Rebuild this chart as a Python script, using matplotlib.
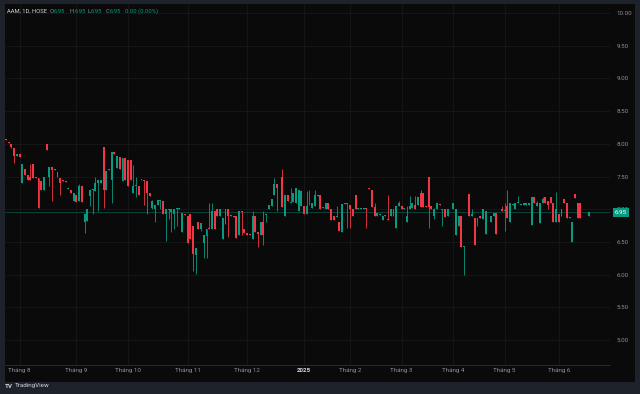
import numpy as np
import matplotlib.pyplot as plt
from matplotlib.patches import Rectangle

plt.rcParams['font.family'] = ['Roboto', 'DejaVu Sans']

# daily OHLC, AAM (HOSE), late Jul 2024 -> Jun 2025
opens = [8.08, 8.03, 8.00, 7.94, 7.81, 7.84, 7.40, 7.61, 7.53, 7.50,
         7.69, 7.50, 7.48, 7.43, 7.30, 8.00, 7.50, 7.64, 7.62, 7.57,
         7.48, 7.45, 7.43, 7.31, 7.30, 7.12, 7.21, 7.12, 7.35, 6.81,
         6.82, 7.20, 7.29, 7.28, 7.40, 7.40, 7.95, 7.30, 7.60, 7.45,
         7.88, 7.63, 7.80, 7.43, 7.78, 7.76, 7.75, 7.25, 7.36, 7.35,
         7.44, 7.45, 7.43, 7.25, 7.02, 7.00, 7.07, 7.12, 7.12, 6.92,
         6.99, 6.95, 6.92, 7.00, 7.01, 6.65, 6.93, 6.89, 6.92, 6.74,
         6.30, 6.81, 6.70, 6.48, 6.59, 6.72, 6.70, 6.97, 7.00, 6.89,
         6.54, 6.77, 7.00, 6.90, 6.89, 6.89, 6.61, 6.98, 6.70, 6.63,
         6.62, 6.54, 6.90, 6.65, 6.61, 6.81, 6.91, 7.01, 7.05, 7.22,
         7.39, 7.32, 7.50, 6.90, 7.21, 7.10, 7.11, 7.10, 6.98, 7.05,
         7.05, 6.92, 7.09, 7.02, 7.05, 7.20, 7.21, 7.02, 7.01, 7.10,
         7.01, 6.89, 6.88, 6.81, 6.65, 7.08, 7.08, 7.07, 7.01, 7.21,
         7.01, 7.01, 7.01, 7.02, 7.33, 7.29, 7.03, 6.89, 6.91, 6.83,
         6.90, 6.85, 6.89, 6.89, 6.72, 7.05, 7.05, 7.01, 6.81, 7.01,
         7.02, 7.07, 7.07, 7.25, 7.25, 7.05, 7.50, 7.05, 6.89, 7.01,
         7.08, 6.99, 7.00, 6.89, 6.86, 7.01, 6.61, 6.75, 6.90, 6.42,
         6.86, 7.23, 6.90, 6.86, 6.79, 6.90, 6.85, 6.62, 6.80, 6.81,
         6.89, 6.94, 6.87, 7.01, 6.97, 7.05, 6.81, 7.07, 7.01, 7.10,
         7.06, 7.07, 7.07, 7.07, 6.76, 7.19, 7.05, 6.79, 7.10, 7.18,
         7.12, 7.19, 7.10, 6.81, 6.92, 6.90, 7.15, 7.10, 6.87, 6.50,
         7.23, 7.10, 7.10, 6.87, 6.87, 6.90, 6.95, 6.95]
highs = [8.08, 8.03, 8.00, 7.94, 7.85, 7.84, 7.69, 7.61, 7.53, 7.69,
         7.69, 7.50, 7.48, 7.43, 7.49, 8.00, 7.65, 7.64, 7.62, 7.57,
         7.48, 7.45, 7.43, 7.33, 7.30, 7.25, 7.21, 7.39, 7.35, 6.93,
         7.00, 7.29, 7.31, 7.50, 7.45, 7.45, 7.95, 7.59, 7.62, 7.88,
         7.88, 7.81, 7.80, 7.78, 7.78, 7.76, 7.75, 7.68, 7.50, 7.35,
         7.46, 7.45, 7.43, 7.25, 7.14, 7.07, 7.14, 7.14, 7.13, 7.00,
         7.00, 7.00, 7.01, 7.02, 7.02, 6.94, 6.93, 6.89, 6.92, 6.74,
         6.41, 6.81, 6.79, 6.60, 6.70, 7.10, 7.10, 6.97, 7.00, 7.00,
         6.87, 7.01, 7.00, 6.91, 6.89, 6.89, 6.98, 6.98, 6.70, 6.63,
         6.62, 6.97, 6.90, 6.65, 6.81, 6.97, 6.92, 7.06, 7.16, 7.48,
         7.39, 7.33, 7.61, 7.22, 7.21, 7.32, 7.25, 7.33, 7.30, 7.30,
         7.05, 7.28, 7.30, 7.10, 7.30, 7.21, 7.21, 7.03, 7.10, 7.10,
         7.01, 6.89, 7.05, 6.81, 7.08, 7.09, 7.09, 7.07, 7.01, 7.21,
         7.02, 7.02, 7.02, 7.02, 7.33, 7.29, 7.10, 6.94, 6.92, 6.89,
         6.91, 7.21, 7.00, 7.00, 7.05, 7.12, 7.05, 7.02, 7.05, 7.20,
         7.10, 7.20, 7.19, 7.30, 7.25, 7.05, 7.50, 7.05, 7.02, 7.10,
         7.08, 7.00, 7.00, 7.01, 6.87, 7.10, 7.01, 6.90, 6.90, 6.44,
         6.87, 7.23, 7.00, 6.86, 6.86, 6.90, 7.00, 6.98, 6.81, 6.90,
         6.94, 6.94, 6.87, 7.05, 7.10, 7.30, 7.10, 7.08, 7.10, 7.20,
         7.08, 7.10, 7.10, 7.10, 7.19, 7.19, 7.12, 7.10, 7.19, 7.18,
         7.12, 7.19, 7.10, 7.27, 6.92, 7.00, 7.15, 7.10, 6.88, 6.81,
         7.23, 7.10, 7.10, 6.87, 6.87, 6.95, 6.96, 6.95]
lows = [8.06, 8.01, 7.93, 7.71, 7.81, 7.80, 7.40, 7.53, 7.45, 7.45,
        7.47, 7.48, 7.02, 7.30, 7.30, 7.90, 7.35, 7.12, 7.60, 7.49,
        7.22, 7.43, 7.41, 7.31, 7.25, 7.12, 7.11, 7.12, 7.11, 6.64,
        6.82, 7.05, 6.92, 7.28, 6.97, 7.40, 7.02, 7.30, 7.60, 7.10,
        7.84, 7.63, 7.61, 7.43, 7.45, 7.35, 7.45, 7.25, 7.18, 7.21,
        7.44, 7.07, 6.92, 7.20, 7.00, 6.81, 7.07, 7.00, 6.92, 6.51,
        6.85, 6.65, 6.69, 6.74, 7.01, 6.65, 6.91, 6.48, 6.54, 6.05,
        6.01, 6.70, 6.66, 6.26, 6.26, 6.70, 6.70, 6.70, 6.89, 6.89,
        6.54, 6.77, 6.57, 6.90, 6.88, 6.56, 6.61, 6.61, 6.63, 6.61,
        6.60, 6.54, 6.65, 6.42, 6.61, 6.45, 6.81, 7.01, 7.05, 7.22,
        6.97, 7.32, 7.03, 6.90, 7.12, 7.10, 7.11, 7.10, 6.98, 7.05,
        6.92, 6.92, 7.07, 7.02, 7.05, 7.20, 7.01, 7.02, 7.01, 7.01,
        6.84, 6.83, 6.88, 6.66, 6.65, 7.08, 6.72, 6.72, 6.89, 7.01,
        7.01, 7.01, 7.01, 6.72, 7.31, 7.03, 6.89, 6.89, 6.91, 6.83,
        6.90, 6.83, 6.89, 6.89, 6.72, 7.05, 7.01, 7.01, 6.81, 7.01,
        7.02, 7.01, 7.07, 7.03, 7.03, 7.03, 6.72, 7.01, 6.85, 7.01,
        7.07, 6.75, 6.88, 6.89, 6.86, 7.01, 6.61, 6.75, 6.42, 6.00,
        6.86, 6.90, 6.90, 6.46, 6.74, 6.86, 6.85, 6.62, 6.80, 6.81,
        6.89, 6.62, 6.86, 6.98, 6.67, 6.87, 6.81, 7.07, 7.01, 7.10,
        7.06, 7.07, 7.07, 7.07, 6.76, 7.09, 7.05, 6.79, 7.10, 7.10,
        7.00, 7.09, 6.81, 6.81, 6.81, 6.90, 7.10, 6.87, 6.87, 6.50,
        7.17, 6.87, 6.87, 6.86, 6.86, 6.90, 6.95, 6.95]
closes = [8.06, 8.01, 7.95, 7.81, 7.85, 7.80, 7.69, 7.53, 7.45, 7.45,
          7.47, 7.48, 7.02, 7.30, 7.49, 7.90, 7.65, 7.60, 7.60, 7.49,
          7.40, 7.43, 7.41, 7.33, 7.25, 7.25, 7.11, 7.35, 7.11, 6.93,
          7.00, 7.29, 7.31, 7.40, 7.45, 7.45, 7.30, 7.59, 7.62, 7.88,
          7.84, 7.81, 7.61, 7.78, 7.45, 7.35, 7.45, 7.35, 7.37, 7.21,
          7.46, 7.43, 7.25, 7.20, 7.12, 7.07, 7.14, 7.14, 6.92, 7.00,
          7.00, 7.00, 7.01, 7.02, 7.02, 6.94, 6.91, 6.48, 6.54, 6.32,
          6.41, 6.70, 6.79, 6.60, 6.70, 6.70, 6.97, 6.70, 6.89, 7.00,
          6.87, 7.01, 6.89, 6.91, 6.88, 6.56, 6.98, 6.96, 6.63, 6.61,
          6.60, 6.90, 6.65, 6.62, 6.81, 6.60, 6.92, 7.06, 7.16, 7.39,
          7.33, 7.33, 7.03, 7.22, 7.12, 7.11, 7.25, 7.33, 7.30, 7.28,
          6.92, 7.05, 7.10, 7.10, 7.21, 7.21, 7.01, 7.03, 7.10, 7.01,
          6.84, 6.83, 6.89, 6.66, 7.08, 7.09, 7.09, 7.00, 6.89, 7.01,
          7.02, 7.02, 7.02, 7.01, 7.31, 7.03, 6.89, 6.94, 6.92, 6.89,
          6.91, 6.83, 7.00, 7.00, 7.05, 7.10, 7.01, 7.02, 6.89, 7.05,
          7.10, 7.01, 7.19, 7.03, 7.03, 7.03, 7.03, 7.01, 7.00, 7.10,
          7.07, 7.00, 6.88, 7.01, 6.87, 7.10, 7.01, 6.90, 6.42, 6.44,
          6.87, 6.90, 6.92, 6.46, 6.86, 6.86, 7.00, 6.98, 6.81, 6.90,
          6.94, 6.62, 6.86, 6.98, 6.99, 6.87, 7.10, 7.08, 7.10, 7.11,
          7.08, 7.10, 7.10, 7.10, 7.19, 7.09, 7.10, 7.10, 7.15, 7.10,
          7.07, 7.09, 6.81, 7.00, 6.81, 7.00, 7.10, 6.87, 6.88, 6.81,
          7.17, 6.87, 6.87, 6.86, 6.86, 6.95, 6.96, 6.95]

month_idx = [5, 26, 45, 67, 89, 110, 127, 146, 165, 184, 204]
month_labels = ['Tháng 8', 'Tháng 9', 'Tháng 10', 'Tháng 11', 'Tháng 12', '2025',
                'Tháng 2', 'Tháng 3', 'Tháng 4', 'Tháng 5', 'Tháng 6']
price_ticks = [5.0, 5.5, 6.0, 6.5, 7.0, 7.5, 8.0, 8.5, 9.0, 9.5, 10.0]
last_price = 6.95

UP = '#089981'
DOWN = '#f23645'
BG = '#0a0a0a'
FRAME = '#1e222b'
GRID = '#181818'
TXT = '#8c8f98'

W, H = 640, 394
fig = plt.figure(figsize=(W / 100, H / 100), dpi=100, facecolor=FRAME)
fig.patches.append(Rectangle((5 / W, 1 - 382 / H), 630 / W, 378 / H,
                             transform=fig.transFigure, facecolor=BG,
                             edgecolor='none', zorder=-5))

ax = fig.add_axes([5 / W, 1 - 365 / H, 605 / W, 361 / H])
ax.set_facecolor(BG)
ax.set_zorder(2)

o = np.array(opens)
h = np.array(highs)
l = np.array(lows)
c = np.array(closes)
x = np.arange(len(o))
colors = np.where(c >= o, UP, DOWN)

ax.vlines(x, l, h, colors=colors, linewidth=0.6, zorder=2)
body_lo = np.minimum(o, c)
body_h = np.maximum(np.abs(c - o), 0.012)
ax.bar(x, body_h, bottom=body_lo, width=0.72, color=colors, linewidth=0, zorder=3)

# last price line + label
ax.axhline(last_price, color=UP, linewidth=0.6, alpha=0.45, zorder=1)
ax.annotate(f'{last_price:.2f}', xy=(1, last_price), xycoords=('axes fraction', 'data'),
            xytext=(11, 0), textcoords='offset pixels', ha='center', va='center',
            fontsize=4.5, color='white', annotation_clip=False, zorder=10,
            bbox=dict(boxstyle='square,pad=0.35', facecolor=UP, edgecolor='none'))

ax.set_xlim(-0.37, 222.9)
ax.set_ylim(4.618, 10.138)

ax.set_yticks(price_ticks)
ax.set_yticklabels([f'{p:.2f}' for p in price_ticks])
ax.yaxis.tick_right()
ax.tick_params(axis='y', length=0, pad=5, labelsize=4.5, labelcolor=TXT)
ax.set_xticks(month_idx)
ax.set_xticklabels(month_labels)
ax.tick_params(axis='x', length=0, pad=2.5, labelsize=4.5, labelcolor=TXT)
for lab in ax.get_xticklabels():
    if lab.get_text() == '2025':
        lab.set_fontweight('bold')
        lab.set_color('#d1d4dc')

ax.grid(True, color=GRID, linewidth=0.6)
ax.set_axisbelow(True)
for side in ['top', 'left', 'right']:
    ax.spines[side].set_visible(False)
ax.spines['bottom'].set_color('#2a2e39')
ax.spines['bottom'].set_linewidth(0.6)

# header
hy = 1 - 11.5 / H
fig.text(7 / W, hy, 'AAM, 1D, HOSE', fontsize=4.2, color='#d1d4dc', va='center')
parts = [(50, 'O', TXT), (54, '6.95', UP), (70, 'H', TXT), (75, '6.95', UP),
         (88, 'L', TXT), (91, '6.95', UP), (106, 'C', TXT), (110, '6.95', UP),
         (125, '0.00 (0.00%)', UP)]
for px, s, col in parts:
    fig.text(px / W, hy, s, fontsize=4.2, color=col, va='center')

# footer logo
fig.text(5 / W, 1 - 386 / H, 'TV', fontsize=4.5, fontweight='bold', color='#d1d4dc', va='center')
fig.text(15 / W, 1 - 386 / H, 'TradingView', fontsize=4.5, color='#d1d4dc', va='center')

fig.savefig('out.png', dpi=100, facecolor=FRAME)
